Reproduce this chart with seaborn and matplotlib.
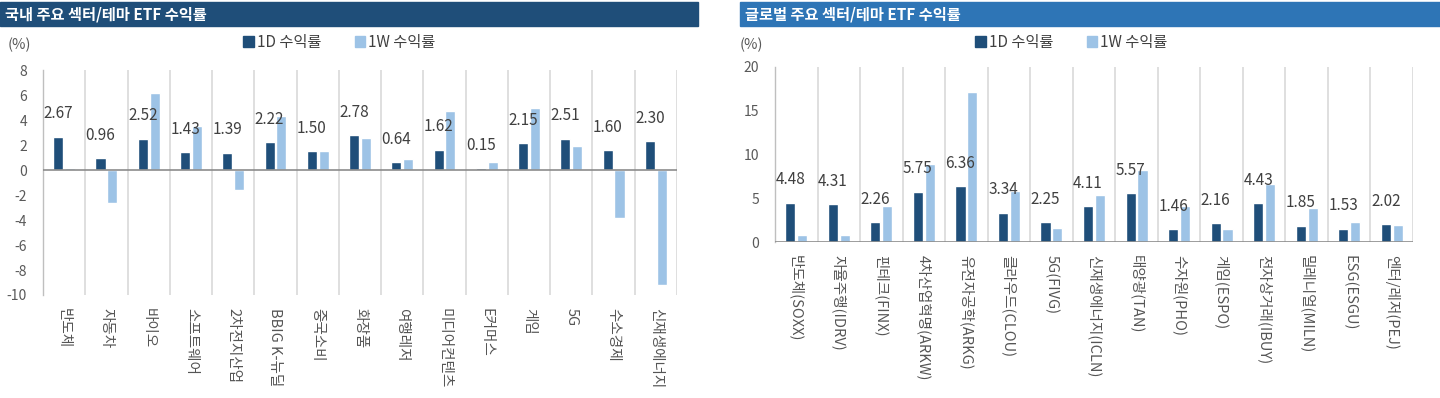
import matplotlib
matplotlib.use("Agg")
import matplotlib.pyplot as plt
from matplotlib.patches import Rectangle
import seaborn as sns
import numpy as np
import pandas as pd

# 국내 주요 섹터/테마 ETF
kr_cats = ["반도체", "자동차", "바이오", "소프트웨어", "2차전지산업", "BBIG K-뉴딜", "중국소비",
           "화장품", "여행레저", "미디어컨텐츠", "E커머스", "게임", "5G", "수소경제", "신재생에너지"]
kr_1d = [2.67, 0.96, 2.52, 1.43, 1.39, 2.22, 1.50, 2.78, 0.64, 1.62, 0.15, 2.15, 2.51, 1.60, 2.30]
kr_1w = [0.20, -2.67, 6.19, 3.52, -1.60, 4.32, 1.52, 2.53, 0.88, 4.75, 0.67, 4.96, 1.92, -3.87, -9.20]

# 글로벌 주요 섹터/테마 ETF
gl_cats = ["반도체(SOXX)", "자율주행(IDRV)", "핀테크(FINX)", "4차산업혁명(ARKW)", "유전자공학(ARKG)",
           "클라우드(CLOU)", "5G(FIVG)", "신재생에너지(ICLN)", "태양광(TAN)", "수자원(PHO)",
           "게임(ESPO)", "전자상거래(IBUY)", "밀레니얼(MILN)", "ESG(ESGU)", "엔터/레저(PEJ)"]
gl_1d = [4.48, 4.31, 2.26, 5.75, 6.36, 3.34, 2.25, 4.11, 5.57, 1.46, 2.16, 4.43, 1.85, 1.53, 2.02]
gl_1w = [0.76, 0.76, 4.08, 8.95, 17.10, 5.79, 1.60, 5.41, 8.23, 4.08, 1.45, 6.59, 3.89, 2.32, 1.94]

series_names = ["1D 수익률", "1W 수익률"]
NAVY = "#1f4e79"
LIGHT = "#9dc3e6"

sns.set_style("white")
plt.rcParams["font.family"] = ["Noto Sans CJK KR", "DejaVu Sans"]
plt.rcParams["axes.unicode_minus"] = False

W, H = 1440, 398


def to_long(cats, d1, w1):
    return pd.DataFrame({
        "cat": cats * 2,
        "series": [series_names[0]] * len(cats) + [series_names[1]] * len(cats),
        "value": d1 + w1,
    })


def draw_panel(fig, rect_px, cats, d1, w1, ylim, yticks, title, bar_color, bar_x):
    x0, x1, ytop, ybot = rect_px
    ax = fig.add_axes([x0 / W, 1 - ybot / H, (x1 - x0) / W, (ybot - ytop) / H])
    df = to_long(cats, d1, w1)
    sns.barplot(data=df, x="cat", y="value", hue="series", order=cats,
                palette=[NAVY, LIGHT], width=0.56, gap=0.15, legend=False,
                saturation=1, ax=ax)
    ax.set_xlim(-0.5, len(cats) - 0.5)
    ax.set_ylim(*ylim)
    ax.set_yticks(yticks)
    ax.set_xlabel("")
    ax.set_ylabel("")

    # category separators
    ax.set_xticks(np.arange(-0.5, len(cats), 1), minor=True)
    ax.grid(which="minor", axis="x", color="#d9d9d9", lw=1.2)
    ax.grid(which="major", visible=False)
    ax.set_axisbelow(True)
    ax.axhline(0, color="#8c8c8c", lw=1.2, zorder=3)

    for s in ["top", "right", "bottom"]:
        ax.spines[s].set_visible(False)
    ax.spines["left"].set_color("#bfbfbf")
    ax.spines["left"].set_linewidth(1.0)

    ax.tick_params(axis="y", direction="in", length=4, color="#bfbfbf",
                   labelsize=10, labelcolor="#595959", pad=11.5)
    ax.tick_params(axis="x", which="major", length=0, pad=9.5)
    ax.tick_params(axis="x", which="minor", length=0)
    ax.set_xticks(range(len(cats)))
    ax.set_xticklabels(cats, rotation=270, ha="center", va="top",
                       fontsize=10.5, color="#555555")

    # value labels for 1D bars
    for bar, v in zip(ax.containers[0], d1):
        ax.annotate(f"{v:.2f}", (bar.get_x() + bar.get_width() / 2, bar.get_height()),
                    xytext=(0, 16.5), textcoords="offset points",
                    ha="center", va="center", fontsize=11, color="#404040", zorder=5)

    # title bar
    bx0, bx1 = bar_x
    fig.patches.append(Rectangle((bx0 / W, 1 - 26 / H), (bx1 - bx0) / W, 24 / H,
                                 transform=fig.transFigure, color=bar_color, zorder=0))
    fig.text((bx0 + 5) / W, 1 - 14 / H, title, color="white", fontsize=11,
             fontweight="bold", ha="left", va="center")

    fig.text((x0 - 35) / W, 1 - 45 / H, "(%)", fontsize=10.5, color="#595959",
             ha="left", va="center")

    handles = [Rectangle((0, 0), 1, 1, color=NAVY), Rectangle((0, 0), 1, 1, color=LIGHT)]
    fig.legend(handles, series_names, loc="center left",
               bbox_to_anchor=((x0 + 200) / W, 1 - 42 / H), ncol=2, frameon=False,
               fontsize=11, handlelength=0.7, handleheight=0.7, handletextpad=0.2,
               columnspacing=2.2, borderaxespad=0, borderpad=0, labelcolor="#404040")
    return ax


fig = plt.figure(figsize=(14.4, 3.98), dpi=100)
draw_panel(fig, (43, 677, 70, 295), kr_cats, kr_1d, kr_1w, (-10, 8), np.arange(-10, 9, 2),
           "국내 주요 섹터/테마 ETF 수익률", "#1f4e79", (0, 698))
draw_panel(fig, (775, 1413, 67, 242), gl_cats, gl_1d, gl_1w, (0, 20), np.arange(0, 21, 5),
           "글로벌 주요 섹터/테마 ETF 수익률", "#2e75b6", (740, 1440))

fig.savefig("out.png", dpi=100)
